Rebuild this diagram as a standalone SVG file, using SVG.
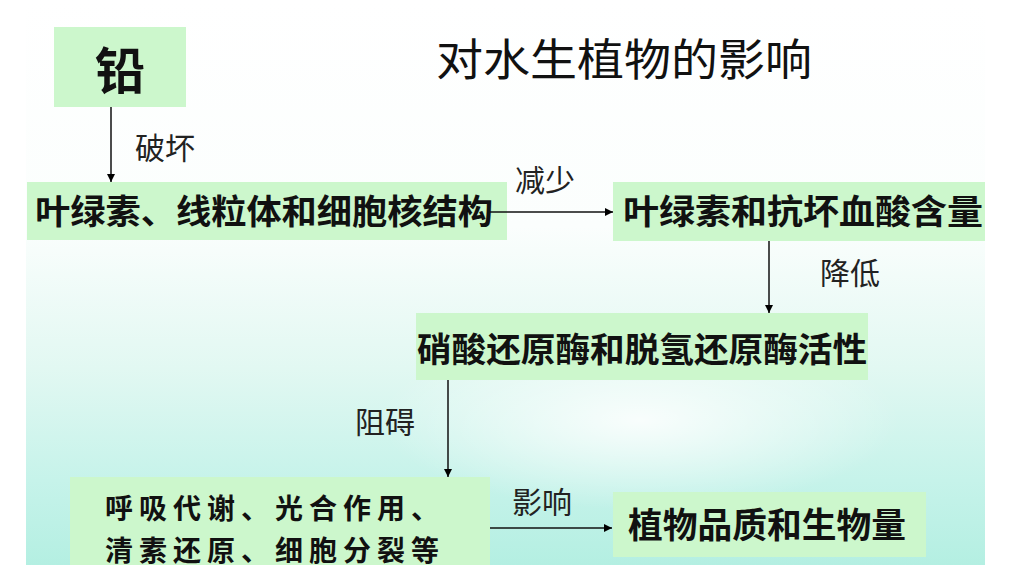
<svg xmlns="http://www.w3.org/2000/svg" width="1014" height="585" viewBox="0 0 1014 585">
<defs>
<linearGradient id="bg" x1="0" y1="0" x2="0" y2="1">
<stop offset="0" stop-color="#ffffff"/>
<stop offset="0.4" stop-color="#fbfefd"/>
<stop offset="0.65" stop-color="#e2f8f2"/>
<stop offset="0.85" stop-color="#c6f3ea"/>
<stop offset="1" stop-color="#b4efe2"/>
</linearGradient>
<radialGradient id="glow" cx="0.5" cy="0.5" r="0.5">
<stop offset="0" stop-color="#ffffff" stop-opacity="0.85"/>
<stop offset="1" stop-color="#ffffff" stop-opacity="0"/>
</radialGradient>
<marker id="ah" viewBox="0 0 10 10" refX="10" refY="5" markerWidth="8" markerHeight="8" markerUnits="userSpaceOnUse" orient="auto">
<path d="M0,0 L10,5 L0,10 z" fill="#000"/>
</marker>
</defs>
<style>
.box{fill:#ccf7cc}
.bt{font-family:"Noto Sans CJK SC","Noto Sans CJK JP",sans-serif;font-weight:bold;fill:#111}
.lbl{font-family:"Noto Sans CJK SC","Noto Sans CJK JP",sans-serif;font-size:30px;fill:#222}
.ln{stroke:#111;stroke-width:1.5;fill:none;marker-end:url(#ah)}
</style>
<rect x="0" y="0" width="1014" height="585" fill="#fff"/>
<rect x="26" y="0" width="959" height="565" fill="url(#bg)"/>
<ellipse cx="640" cy="420" rx="260" ry="90" fill="url(#glow)"/>
<text x="436" y="76" font-family="Noto Sans CJK SC, Noto Sans CJK JP, sans-serif" font-size="44" textLength="376" lengthAdjust="spacingAndGlyphs" fill="#111">对水生植物的影响</text>
<g id="n-lead"><rect class="box" x="54" y="27" width="132" height="80"/><text class="bt" x="120" y="89" font-size="50" text-anchor="middle">铅</text></g>
<g id="n-structure"><rect class="box" x="27" y="182" width="480" height="58"/><text class="bt" x="35" y="224" font-size="34" textLength="458" lengthAdjust="spacingAndGlyphs">叶绿素、线粒体和细胞核结构</text></g>
<g id="n-content"><rect class="box" x="613" y="182" width="372" height="59"/><text class="bt" x="623" y="224" font-size="34" textLength="360" lengthAdjust="spacingAndGlyphs">叶绿素和抗坏血酸含量</text></g>
<g id="n-enzyme"><rect class="box" x="416" y="313" width="452" height="67"/><text class="bt" x="417" y="362" font-size="34" textLength="450" lengthAdjust="spacingAndGlyphs">硝酸还原酶和脱氢还原酶活性</text></g>
<g id="n-process"><rect class="box" x="70" y="477" width="420" height="88"/><text class="bt" x="105" y="519" font-size="28" letter-spacing="6">呼吸代谢、光合作用、</text><text class="bt" x="105" y="561" font-size="28" letter-spacing="6">清素还原、细胞分裂等</text></g>
<g id="n-quality"><rect class="box" x="613" y="492" width="313" height="65"/><text class="bt" x="628" y="538" font-size="35" textLength="278" lengthAdjust="spacingAndGlyphs">植物品质和生物量</text></g>
<g id="connectors">
<line class="ln" x1="111" y1="107" x2="111" y2="182"/>
<line class="ln" x1="490" y1="212" x2="613" y2="212"/>
<line class="ln" x1="769" y1="241" x2="769" y2="313"/>
<line class="ln" x1="448" y1="380" x2="448" y2="477"/>
<line class="ln" x1="490" y1="528" x2="612" y2="528"/>
<text class="lbl" x="135" y="159">破坏</text>
<text class="lbl" x="515" y="191">减少</text>
<text class="lbl" x="820" y="284">降低</text>
<text class="lbl" x="355" y="433">阻碍</text>
<text class="lbl" x="512" y="513">影响</text>
</g>
</svg>
